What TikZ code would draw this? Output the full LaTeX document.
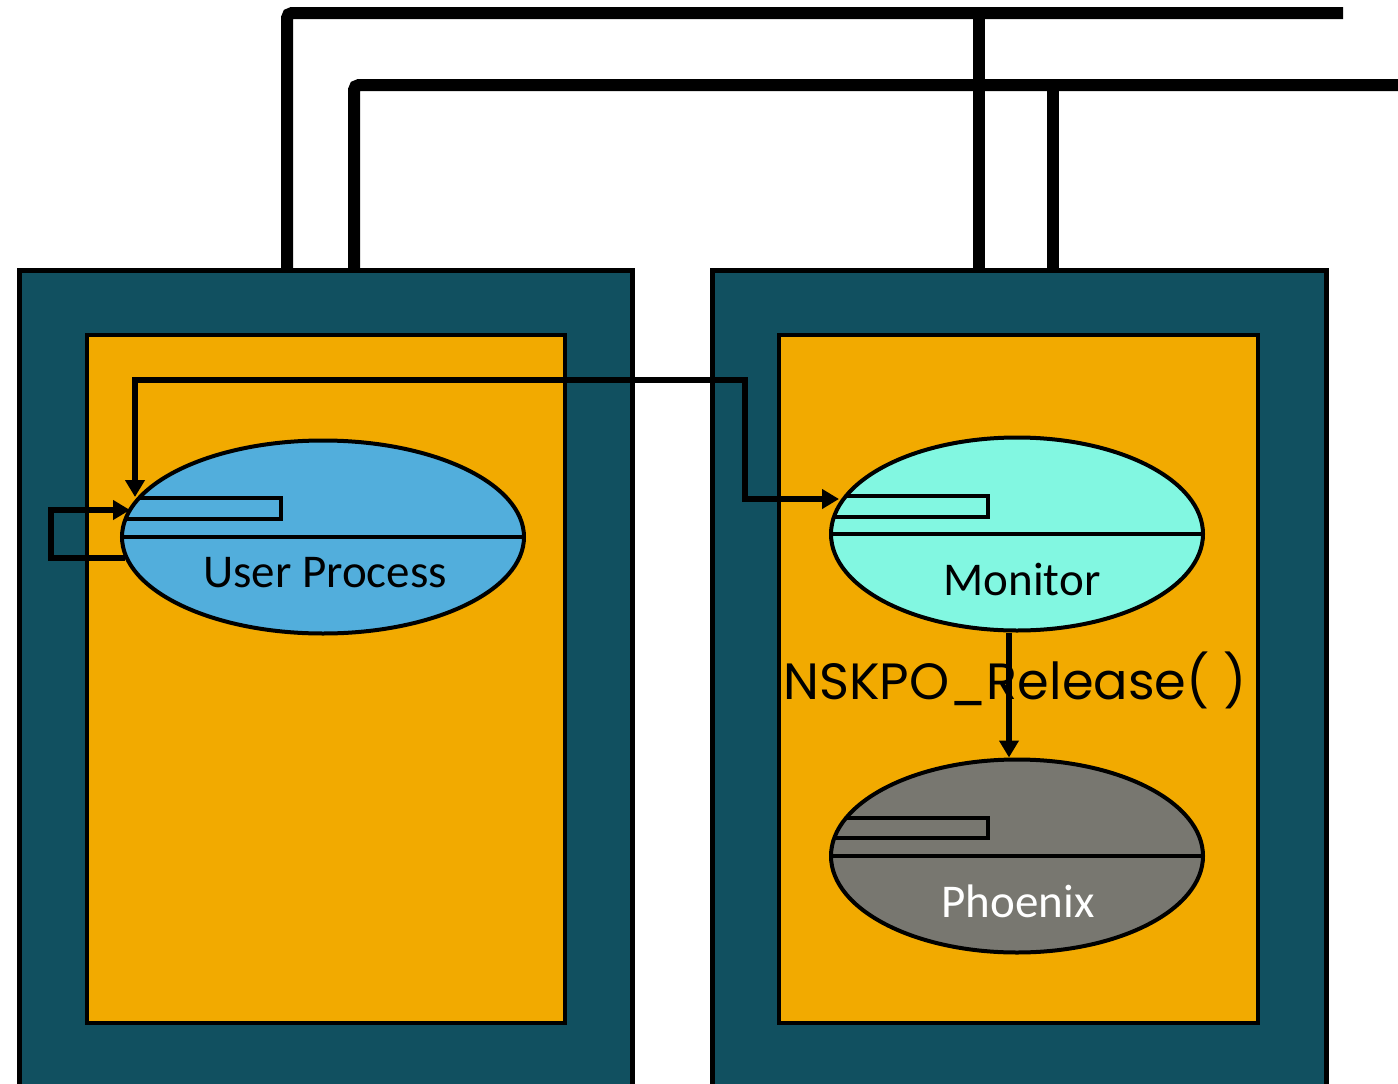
\documentclass[tikz,border=0pt]{standalone}
\usepackage{fontspec}
\setmainfont{Carlito}
\newfontfamily\gothic{Poppins}
\usetikzlibrary{arrows.meta,shapes.geometric}
\definecolor{hostteal}{RGB}{17,80,96}
\definecolor{cpuorange}{RGB}{242,170,0}
\definecolor{userblue}{RGB}{82,174,220}
\definecolor{monaqua}{RGB}{130,247,225}
\definecolor{phxgrey}{RGB}{120,119,112}
\begin{document}
\begin{tikzpicture}[x=1pt,y=-1pt,
  bus/.style={line width=12pt, rounded corners=5pt},
  host/.style={rectangle, draw=black, line width=5pt, fill=hostteal,
    anchor=north west, inner sep=0pt, minimum height=900pt},
  cpu/.style={rectangle, draw=black, line width=4pt, fill=cpuorange,
    anchor=north west, inner sep=0pt, minimum height=688pt},
  proc/.style={ellipse, draw=black, line width=4pt, inner sep=0pt,
    minimum height=193pt},
  rule/.style={line width=4pt},
  link/.style={line width=6pt, -{Triangle[length=17pt,width=19pt]}},
  both/.style={line width=6pt, {Triangle[length=17pt,width=19pt]}-{Triangle[length=17pt,width=19pt]}},
  plabel/.style={font=\fontsize{47}{52}\selectfont, inner sep=0pt},
  fname/.style={font=\gothic\fontsize{51}{56}\selectfont, inner sep=0pt}]
\useasboundingbox (0,0) rectangle (1398,1084);
\clip (0,0) rectangle (1398,1084);

% two hosts, each with its processor board
\node[host, minimum width=613pt] (h1) at (17,268) {};
\node[host, minimum width=614pt] (h2) at (710,268) {};
\node[cpu, minimum width=478pt] (c1) at (85,333) {};
\node[cpu, minimum width=479pt] (c2) at (777,333) {};

% the two interconnect buses
\coordinate (busA) at (1343,13);
\coordinate (busB) at (1410,85);
\draw[bus] ([xshift=270pt]h1.north west) |- (busA);
\draw[bus] ([xshift=337pt]h1.north west) |- (busB);
\draw[line width=12pt] (979,13) -- ([xshift=269pt]h2.north west);
\draw[line width=12pt] (1053,85) -- ([xshift=343pt]h2.north west);

% processes
\node[proc, fill=userblue, minimum width=402pt] (u) at (323,537) {};
\node[proc, fill=monaqua, minimum width=372pt] (m) at (1017,534) {};
\node[proc, fill=phxgrey, minimum width=372pt] (p) at (1017,856) {};

% message queues and dividers inside each process
\begin{scope}
  \clip (u.center) ellipse [x radius=201, y radius=96.5];
  \draw[rule] (100,498) rectangle (281,519);
\end{scope}
\draw[rule] (u.west) -- (u.east);
\begin{scope}
  \clip (m.center) ellipse [x radius=186, y radius=96.5];
  \draw[rule] (800,496) rectangle (988,517);
\end{scope}
\draw[rule] (m.west) -- (m.east);
\begin{scope}
  \clip (p.center) ellipse [x radius=186, y radius=96.5];
  \draw[rule] (800,818) rectangle (988,838);
\end{scope}
\draw[rule] (p.west) -- (p.east);

% labels
\node[plabel] (ul) at (325,573) {User Process};
\node[plabel] (ml) at (1022,579) {Monitor};
\node[plabel, text=white] (pl) at (1018,901) {Phoenix};
\node[fname] (rel) at (1015,680) {NSKPO\_Release( )};

% message paths
\coordinate (uin) at (135,497);
\coordinate (min) at (839,499);
\coordinate (uloop) at (130,510);
\draw[both] (uin) |- (745,380) |- (min);
\draw[link] (u.186) -- ++(-74,0) |- (uloop);
\draw[link] ([xshift=-8pt]m.south) -- ([xshift=-8pt]p.north);
\end{tikzpicture}
\end{document}
